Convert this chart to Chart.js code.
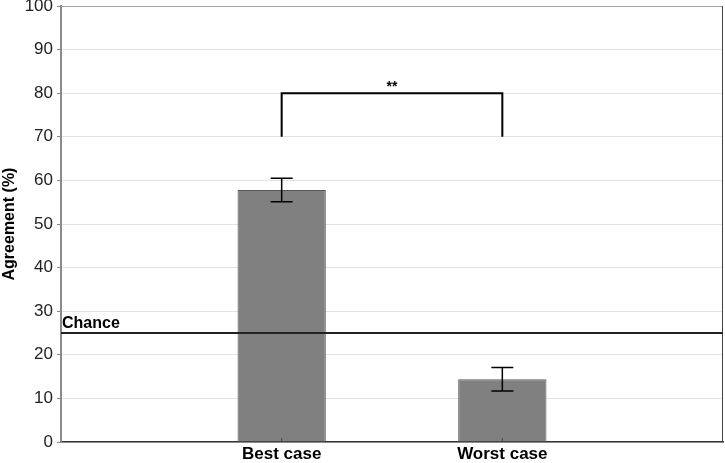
<!DOCTYPE html>
<html>
<head>
<meta charset="utf-8">
<script src="https://cdn.jsdelivr.net/npm/chart.js@4/dist/chart.umd.min.js"></script>
<style>
  html, body { margin: 0; padding: 0; background: #fff; }
  #wrap { width: 725px; height: 463px; position: relative; }
</style>
</head>
<body>
<div id="wrap"><canvas id="myChart"></canvas></div>
<script>
// categories (empty slots at both ends give the margins)
const categories = ["", "Best case", "Worst case", ""];
const agreement = [null, 57.8, 14.4, null];
const errLow = [null, 55.1, 11.7, null];
const errHigh = [null, 60.5, 17.1, null];
const chanceLevel = 25;
const bracketIdx = [1, 2];
const bracketLevels = [70, 80];
const bracketLabel = "**";
const yTicks = [0, 10, 20, 30, 40, 50, 60, 70, 80, 90, 100];

const FONT = "'Liberation Sans', Arial, sans-serif";

const extras = {
	id: "extras",
	afterDatasetsDraw(chart) {
		const ctx = chart.ctx;
		const x = chart.scales.x;
		const y = chart.scales.y;
		const area = chart.chartArea;
		ctx.save();

		// frame
		ctx.lineWidth = 1;
		ctx.strokeStyle = "#a0a0a0";
		ctx.beginPath();
		ctx.moveTo(area.left, area.top + 0.5);
		ctx.lineTo(area.right, area.top + 0.5);
		ctx.stroke();
		ctx.strokeStyle = "#444";
		ctx.beginPath();
		ctx.moveTo(area.right - 0.5, area.top);
		ctx.lineTo(area.right - 0.5, area.bottom);
		ctx.stroke();

		// error bars
		ctx.strokeStyle = "#000";
		ctx.lineWidth = 1.5;
		for (let i = 0; i < categories.length; i++) {
			if (agreement[i] == null) continue;
			const cx = x.getPixelForValue(i);
			const top = y.getPixelForValue(errHigh[i]);
			const bot = y.getPixelForValue(errLow[i]);
			ctx.beginPath();
			ctx.moveTo(cx, top);
			ctx.lineTo(cx, bot);
			ctx.moveTo(cx - 11, top);
			ctx.lineTo(cx + 11, top);
			ctx.moveTo(cx - 11, bot);
			ctx.lineTo(cx + 11, bot);
			ctx.stroke();
		}

		// chance line
		const cy = y.getPixelForValue(chanceLevel);
		ctx.lineWidth = 2;
		ctx.strokeStyle = "#222";
		ctx.beginPath();
		ctx.moveTo(area.left, cy);
		ctx.lineTo(area.right, cy);
		ctx.stroke();
		ctx.fillStyle = "#000";
		ctx.font = "bold 16px " + FONT;
		ctx.textAlign = "left";
		ctx.textBaseline = "bottom";
		ctx.fillText("Chance", area.left + 1, cy - 1);

		// significance bracket
		const bx1 = x.getPixelForValue(bracketIdx[0]);
		const bx2 = x.getPixelForValue(bracketIdx[1]);
		const by1 = y.getPixelForValue(bracketLevels[0]);
		const by2 = y.getPixelForValue(bracketLevels[1]);
		ctx.lineWidth = 2;
		ctx.strokeStyle = "#000";
		ctx.beginPath();
		ctx.moveTo(bx1, by1);
		ctx.lineTo(bx1, by2);
		ctx.lineTo(bx2, by2);
		ctx.lineTo(bx2, by1);
		ctx.stroke();
		ctx.font = "bold 14px " + FONT;
		ctx.textAlign = "center";
		ctx.textBaseline = "bottom";
		ctx.fillText(bracketLabel, (bx1 + bx2) / 2, by2 + 1);

		// small inner ticks on the category axis
		ctx.lineWidth = 1;
		ctx.strokeStyle = "#444";
		for (let i = 0; i < categories.length; i++) {
			if (!categories[i]) continue;
			const cx = x.getPixelForValue(i);
			ctx.beginPath();
			ctx.moveTo(cx, area.bottom);
			ctx.lineTo(cx, area.bottom - 4);
			ctx.stroke();
		}
		ctx.restore();
	},
};

const ctx = document.getElementById("myChart").getContext("2d");
const myChart = new Chart(ctx, {
	type: "bar",
	data: {
		labels: categories,
		datasets: [
			{
				label: "Agreement",
				data: agreement,
				backgroundColor: "#808080",
				borderColor: "#555",
				borderWidth: 1,
				barPercentage: 0.4,
				categoryPercentage: 1,
			},
		],
	},
	options: {
		responsive: true,
		maintainAspectRatio: false,
		animation: false,
		layout: { padding: { top: 6, right: 2, left: 0, bottom: 0 } },
		plugins: {
			legend: { display: false },
			tooltip: { enabled: false },
		},
		scales: {
			x: {
				offset: false,
				grid: { display: false, drawTicks: false },
				border: { display: true, color: "#333", width: 1.5 },
				ticks: {
					color: "#000",
					padding: 4,
					maxRotation: 0,
					autoSkip: false,
					font: { family: FONT, size: 17, weight: "bold", lineHeight: 1 },
				},
				afterFit(scale) {
					scale.height = 21;
					scale.paddingLeft = 0;
					scale.paddingRight = 0;
				},
			},
			y: {
				min: 0,
				max: 100,
				afterBuildTicks(scale) {
					scale.ticks = yTicks.map((v) => ({ value: v }));
				},
				grid: { color: "#e2e2e2", tickLength: 4, tickColor: "#888" },
				border: { display: true, color: "#8a8a8a", width: 2 },
				ticks: {
					color: "#222",
					padding: 4,
					font: { family: FONT, size: 17 },
				},
				title: {
					display: true,
					text: "Agreement (%)",
					color: "#000",
					padding: { top: 0, bottom: 2 },
					font: { family: FONT, size: 16, weight: "bold" },
				},
				afterFit(scale) {
					scale.width = 61;
					scale.paddingTop = 0;
					scale.paddingBottom = 0;
				},
			},
		},
	},
	plugins: [extras],
});
</script>
</body>
</html>
